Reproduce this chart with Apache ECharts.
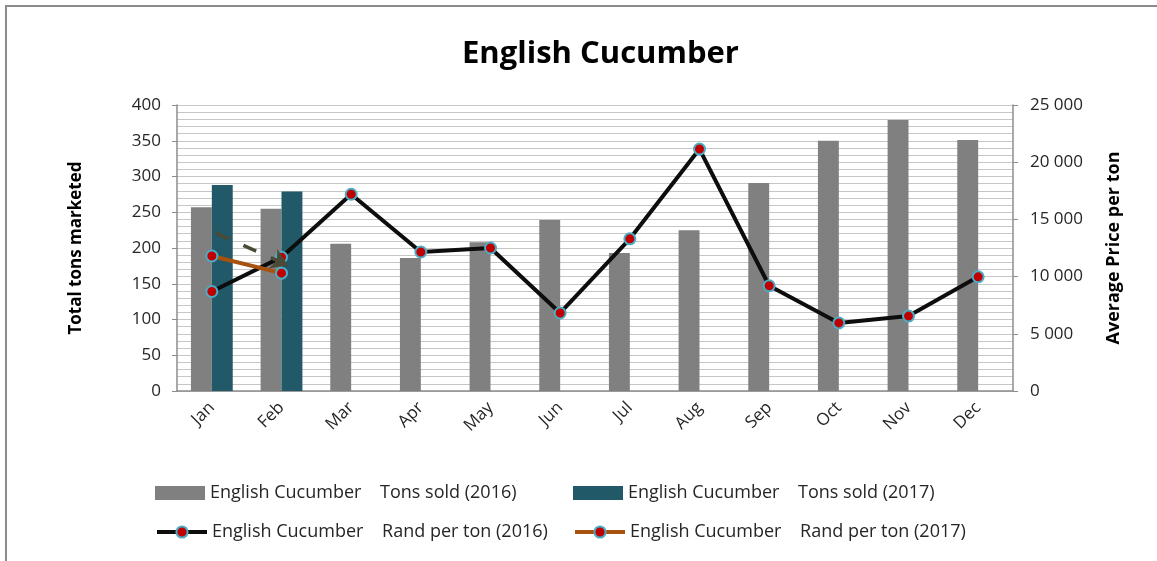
<!DOCTYPE html>
<html><head><meta charset="utf-8">
<script src="https://cdn.jsdelivr.net/npm/echarts@6/dist/echarts.min.js"></script>
<style>html,body{margin:0;padding:0;background:#fff}#c{width:1157px;height:561px}</style>
</head><body><div id="c"></div>
<script>
const months = ['Jan','Feb','Mar','Apr','May','Jun','Jul','Aug','Sep','Oct','Nov','Dec'];
const tons2016 = [257,255,206,186,208,239,193,225,291,350,379,351];
const tons2017 = [288,279,null,null,null,null,null,null,null,null,null,null];
const rand2016 = [8700,11700,17200,12150,12500,6820,13300,21150,9200,5950,6550,9980];
const rand2017 = [11800,10300,null,null,null,null,null,null,null,null,null,null];
// dashed arrow drawn on the chart: [x index, price] start and end
const arrowStart = [0.06, 13800];
const arrowEnd = [1.09, 11000];
const leftTicks = {min:0, max:400, interval:50};
const rightTicks = {min:0, max:25000, interval:5000};

const NB = 'English Cucumber    ';
const names = [NB+'Tons sold (2016)', NB+'Tons sold (2017)', NB+'Rand per ton (2016)', NB+'Rand per ton (2017)'];
const FONT = 'Open Sans';
const txt = {fontFamily: FONT, fontSize: 18, color: '#262626'};

const chart = echarts.init(document.getElementById('c'));
const lineSym = {color:'#c00000', borderColor:'#4bacc6', borderWidth:2};
function legend(name, left, top, icon){
  const l = {data:[name], left:left, top:top, itemWidth:50, itemHeight:14, itemGap:0,
    textStyle: Object.assign({}, txt), selectedMode:false, padding:0};
  if (icon) l.icon = icon; else l.lineStyle = {width:4};
  return l;
}
chart.setOption({
  animation:false,
  title:{text:'English Cucumber', left:457, top:34, textStyle:{fontFamily:FONT, fontSize:31, fontWeight:'bold', color:'#000'}},
  graphic:[{type:'rect', shape:{x:6,y:6,width:1170,height:570}, style:{fill:'none', stroke:'#8c8c8c', lineWidth:2}, silent:true}],
  legend:[
    legend(names[0],155,484,'rect'),
    legend(names[1],573,484,'rect'),
    legend(names[2],155,523),
    legend(names[3],573,523)
  ],
  grid:{left:177, right:144, top:105, bottom:170},
  xAxis:[{type:'category', data:months, axisLine:{lineStyle:{color:'#8c8c8c', width:1.5}}, axisTick:{show:false},
    axisLabel:{rotate:45, margin:14, fontSize:17, fontFamily:FONT, color:'#262626'}},
    {type:'value', min:-0.5, max:11.5, show:false, axisLine:{show:false}, splitLine:{show:false}}],
  yAxis:[
    {type:'value', min:leftTicks.min, max:leftTicks.max, interval:leftTicks.interval, name:'Total tons marketed',
     nameLocation:'middle', nameGap:92, nameTextStyle:{fontFamily:FONT, fontSize:17, fontWeight:'bold', color:'#000'},
     axisLine:{show:true, onZero:false, lineStyle:{color:'#8c8c8c', width:1.5}}, axisTick:{show:true, inside:false, length:5, lineStyle:{color:'#8c8c8c'}},
     axisLabel:{fontFamily:FONT, fontSize:17, color:'#262626', margin:16},
     splitLine:{show:true, lineStyle:{color:'#c6c6c6', width:1}},
     minorTick:{show:false, splitNumber:5}, minorSplitLine:{show:true, lineStyle:{color:'#c6c6c6', width:1}}},
    {type:'value', min:rightTicks.min, max:rightTicks.max, interval:rightTicks.interval, name:'Average Price per ton',
     nameLocation:'middle', nameGap:92, nameRotate:90, nameTextStyle:{fontFamily:FONT, fontSize:18, fontWeight:'bold', color:'#000'},
     axisLine:{show:true, onZero:false, lineStyle:{color:'#8c8c8c', width:1.5}}, axisTick:{show:true, length:5, lineStyle:{color:'#8c8c8c'}},
     axisLabel:{fontFamily:FONT, fontSize:17, color:'#262626', margin:17, formatter:v=>String(v).replace(/\B(?=(\d{3})+(?!\d))/g,' ')},
     splitLine:{show:false}}
  ],
  series:[
    {name:names[0], type:'bar', data:tons2016, barWidth:'30%', barGap:'0%', itemStyle:{color:'#808080'}},
    {name:names[1], type:'bar', data:tons2017, barWidth:'30%', barGap:'0%', itemStyle:{color:'#215968'}},
    {name:names[2], type:'line', yAxisIndex:1, data:rand2016, symbol:'circle', symbolSize:11,
     lineStyle:{color:'#0d0d0d', width:4}, itemStyle:Object.assign({}, lineSym), z:5},
    {name:names[3], type:'line', yAxisIndex:1, data:rand2017, symbol:'circle', symbolSize:11,
     lineStyle:{color:'#a8520f', width:4}, itemStyle:Object.assign({}, lineSym), z:6},
    {type:'lines', coordinateSystem:'cartesian2d', xAxisIndex:1, yAxisIndex:1, silent:true, z:7,
     symbol:['none','arrow'], symbolSize:16,
     lineStyle:{color:'#4b4a37', width:3.5, type:[14,16], opacity:1, curveness:0},
     data:[{coords:[arrowStart, arrowEnd]}]}
  ]
});
</script></body></html>
